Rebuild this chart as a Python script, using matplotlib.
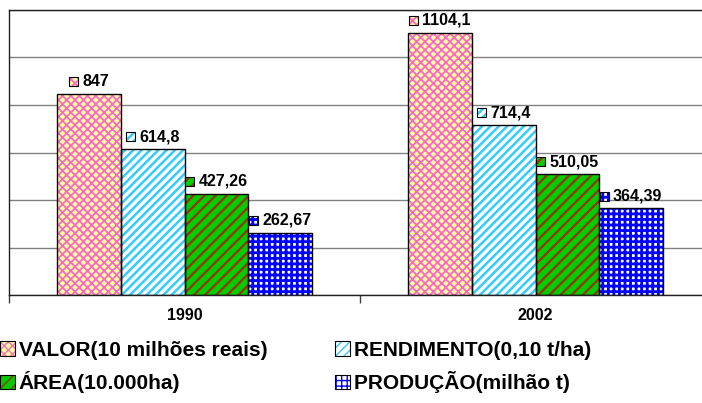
import matplotlib
matplotlib.use('Agg')
import matplotlib.pyplot as plt
from matplotlib.patches import Rectangle, Patch
from matplotlib.offsetbox import AnnotationBbox, HPacker, DrawingArea, TextArea
from matplotlib.legend_handler import HandlerTuple

plt.rcParams['font.family'] = ['Liberation Sans', 'DejaVu Sans']
plt.rcParams['font.weight'] = 'bold'

# data
years = ['1990', '2002']
series = ['VALOR(10 milhões reais)', 'RENDIMENTO(0,10 t/ha)',
          'ÁREA(10.000ha)', 'PRODUÇÃO(milhão t)']
valor = [847, 1104.1]
rendimento = [614.8, 714.4]
area = [427.26, 510.05]
producao = [262.67, 364.39]
labels = [['847', '1104,1'], ['614,8', '714,4'],
          ['427,26', '510,05'], ['262,67', '364,39']]
values = [valor, rendimento, area, producao]

# styles: face colour, hatch, hatch colour, hatch linewidth
styles = [
    ('#FFFF99', 'xxxx', '#FF66CC', 1.3),
    ('#FFFFFF', '////', '#33CCFF', 1.8),
    ('#00CC00', '///', '#993300', 1.6),
    ('#FFFFFF', '+++', '#0000FF', 2.0),
]


def hatched(patch, st):
    face, hatch, hcol, hlw = st
    patch.set_facecolor(face)
    patch.set_hatch(hatch)
    patch.set_edgecolor(hcol)
    patch.set_linewidth(0)
    if hasattr(patch, 'set_hatch_linewidth'):
        patch.set_hatch_linewidth(hlw)


fig = plt.figure(figsize=(7.02, 4.03), dpi=100)
ax = fig.add_axes([9 / 702, 108 / 403, 1.0, 285 / 403])

w = 0.1815
x = [0, 1]
k = 6.5  # size of the little key square, points
for i, vals in enumerate(values):
    pos = [xi + (i - 1.5) * w for xi in x]
    bars = ax.bar(pos, vals, width=w, zorder=2)
    for b in bars:
        hatched(b, styles[i])
    ax.bar(pos, vals, width=w, fill=False, edgecolor='black', linewidth=1, zorder=3)
    for p, v, lab in zip(pos, vals, labels[i]):
        da = DrawingArea(k, k, 0, 0)
        r = Rectangle((0, 0), k, k)
        hatched(r, styles[i])
        da.add_artist(r)
        da.add_artist(Rectangle((0, 0), k, k, fill=False,
                                edgecolor='black', linewidth=0.8))
        ta = TextArea(lab, textprops=dict(fontsize=11.5, fontweight='bold', color='black'))
        box = HPacker(children=[da, ta], align='center', pad=0, sep=3)
        ab = AnnotationBbox(box, (p, v), xybox=(0, 3.5), xycoords='data',
                            boxcoords='offset points', box_alignment=(0.5, 0),
                            frameon=False, pad=0, zorder=4)
        ax.add_artist(ab)

ax.set_xlim(-0.5, 1.5)
ax.set_ylim(0, 1200)
ax.set_yticks(range(0, 1201, 200))
ax.yaxis.grid(True, color='#808080', linewidth=1, zorder=0)
ax.set_axisbelow(True)
ax.tick_params(axis='y', length=0, labelleft=False)
ax.set_xticks(x)
ax.set_xticklabels(years, fontsize=11.5, fontweight='bold')
ax.tick_params(axis='x', which='major', length=0, pad=9)
ax.set_xticks([-0.5, 0.5, 1.5], minor=True)
ax.tick_params(axis='x', which='minor', length=6, width=1, color='#404040')
for s in ['left', 'top', 'bottom']:
    ax.spines[s].set_color('#202020')
    ax.spines[s].set_linewidth(1)
ax.spines['right'].set_visible(False)

# legend
handles = []
for st in styles:
    hp = Patch()
    hatched(hp, st)
    ep = Patch(fill=False, edgecolor='black', linewidth=0.8)
    handles.append((hp, ep))
order = [0, 2, 1, 3]
fig.legend([handles[j] for j in order], [series[j] for j in order],
           handler_map={tuple: HandlerTuple(ndivide=1, pad=0)},
           loc='upper left', bbox_to_anchor=(0.0, 1 - 341 / 403), ncol=2,
           frameon=False, prop=dict(size=15, weight='bold'),
           handlelength=0.7, handleheight=0.7, handletextpad=0.2,
           columnspacing=3.25, labelspacing=0.55, borderaxespad=0, borderpad=0)

fig.savefig('out.png', dpi=100)
